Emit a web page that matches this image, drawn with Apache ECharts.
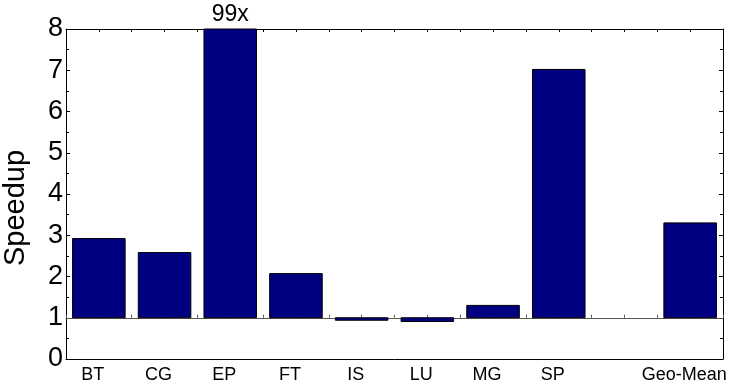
<!DOCTYPE html>
<html>
<head>
<meta charset="utf-8">
<script src="https://cdn.jsdelivr.net/npm/echarts@6/dist/echarts.min.js"></script>
<style>
  html, body { margin: 0; padding: 0; background: #fff; }
  #chart { width: 732px; height: 389px; }
</style>
</head>
<body>
<div id="chart"></div>
<script>
// Benchmark names (one empty slot separates the mean from the kernels)
const categories = ['BT', 'CG', 'EP', 'FT', 'IS', 'LU', 'MG', 'SP', '', 'Geo-Mean'];
// Speedup per benchmark; null leaves the slot empty
const speedups = [2.92, 2.58, 99, 2.07, 0.94, 0.91, 1.3, 7.02, null, 3.3];
// Value axis range and the reference level bars grow from
const yTicks = [0, 1, 2, 3, 4, 5, 6, 7, 8];
const Y_MIN = 0;
const Y_MAX = 8;
const BASE = 1;

const FONT = '"Liberation Sans", Arial, Helvetica, sans-serif';
const chart = echarts.init(document.getElementById('chart'));

const barData = [];
speedups.forEach(function (v, i) {
  if (v !== null) barData.push([i, v]);
});

const gridTop = 29, gridBottom = 30;
const plotH = 389 - gridTop - gridBottom;
const baseOffset = -plotH * (BASE - Y_MIN) / (Y_MAX - Y_MIN);

const xCommon = {
  type: 'value',
  min: -0.5,
  max: categories.length - 0.5,
  interval: 0.5,
  splitLine: { show: false }
};

chart.setOption({
  animation: false,
  backgroundColor: '#fff',
  grid: {
    left: 66, right: 9, top: gridTop, bottom: gridBottom,
    containLabel: false,
    outerBoundsMode: 'none'
  },
  xAxis: [
    Object.assign({}, xCommon, {
      position: 'bottom',
      axisLine: { show: true, onZero: false, lineStyle: { color: '#000', width: 1 } },
      axisTick: { show: false },
      axisLabel: {
        show: true,
        fontFamily: FONT,
        fontSize: 18,
        color: '#000',
        margin: 7,
        showMinLabel: true,
        showMaxLabel: true,
        rich: {
          c: { fontFamily: FONT, fontSize: 18, color: '#000', padding: [0, 12, 0, 0] }
        },
        formatter: function (val) {
          const i = Math.round(val);
          const name = Math.abs(val - i) < 1e-6 ? (categories[i] || '') : '';
          return name ? '{c|' + name + '}' : '';
        }
      }
    }),
    Object.assign({}, xCommon, {
      position: 'top',
      axisLine: { show: true, onZero: false, lineStyle: { color: '#000', width: 1 } },
      axisTick: { show: true, inside: true, length: 3, lineStyle: { color: '#000' } },
      axisLabel: { show: false }
    }),
    Object.assign({}, xCommon, {
      position: 'bottom',
      offset: baseOffset,
      axisLine: { show: true, onZero: false, lineStyle: { color: '#555', width: 1 } },
      axisTick: { show: true, inside: true, length: 3, lineStyle: { color: '#555' } },
      axisLabel: { show: false },
      z: 1
    })
  ],
  yAxis: [
    {
      type: 'value',
      min: Y_MIN,
      max: Y_MAX,
      interval: 1,
      position: 'left',
      name: 'Speedup',
      nameLocation: 'middle',
      nameGap: 36,
      nameTextStyle: {
        fontFamily: FONT,
        fontSize: 29,
        color: '#000',
        padding: [0, 28, 0, 0]
      },
      axisLine: { show: true, onZero: false, lineStyle: { color: '#000', width: 1 } },
      axisTick: { show: true, inside: true, length: 4, lineStyle: { color: '#000' } },
      minorTick: { show: true, splitNumber: 2, length: 3, lineStyle: { color: '#000' } },
      splitLine: { show: false },
      axisLabel: {
        fontFamily: FONT,
        fontSize: 27,
        color: '#000',
        margin: 3,
        formatter: function (v) { return yTicks.indexOf(v) >= 0 ? String(v) : ''; }
      }
    },
    {
      type: 'value',
      min: Y_MIN,
      max: Y_MAX,
      interval: 1,
      position: 'right',
      axisLine: { show: true, onZero: false, lineStyle: { color: '#000', width: 1 } },
      axisTick: { show: true, inside: true, length: 4, lineStyle: { color: '#000' } },
      minorTick: { show: true, splitNumber: 2, length: 3, lineStyle: { color: '#000' } },
      splitLine: { show: false },
      axisLabel: { show: false }
    }
  ],
  series: [
    {
      type: 'custom',
      xAxisIndex: 0,
      yAxisIndex: 0,
      data: barData,
      z: 2,
      renderItem: function (params, api) {
        const x = api.value(0);
        const v = api.value(1);
        const shown = Math.min(v, Y_MAX);
        const p0 = api.coord([x, BASE]);
        const p1 = api.coord([x, shown]);
        const w = api.size([1, 0])[0] * 0.8;
        const children = [{
          type: 'rect',
          shape: {
            x: p0[0] - w / 2,
            y: Math.min(p0[1], p1[1]),
            width: w,
            height: Math.abs(p1[1] - p0[1])
          },
          style: { fill: '#000080', stroke: '#000', lineWidth: 1 }
        }];
        if (v > Y_MAX) {
          children.push({
            type: 'text',
            x: p1[0],
            y: p1[1] - 3,
            style: {
              text: v + 'x',
              fontFamily: FONT,
              fontSize: 23,
              fill: '#000',
              align: 'center',
              verticalAlign: 'bottom'
            }
          });
        }
        return { type: 'group', children: children };
      }
    }
  ]
});
</script>
</body>
</html>
